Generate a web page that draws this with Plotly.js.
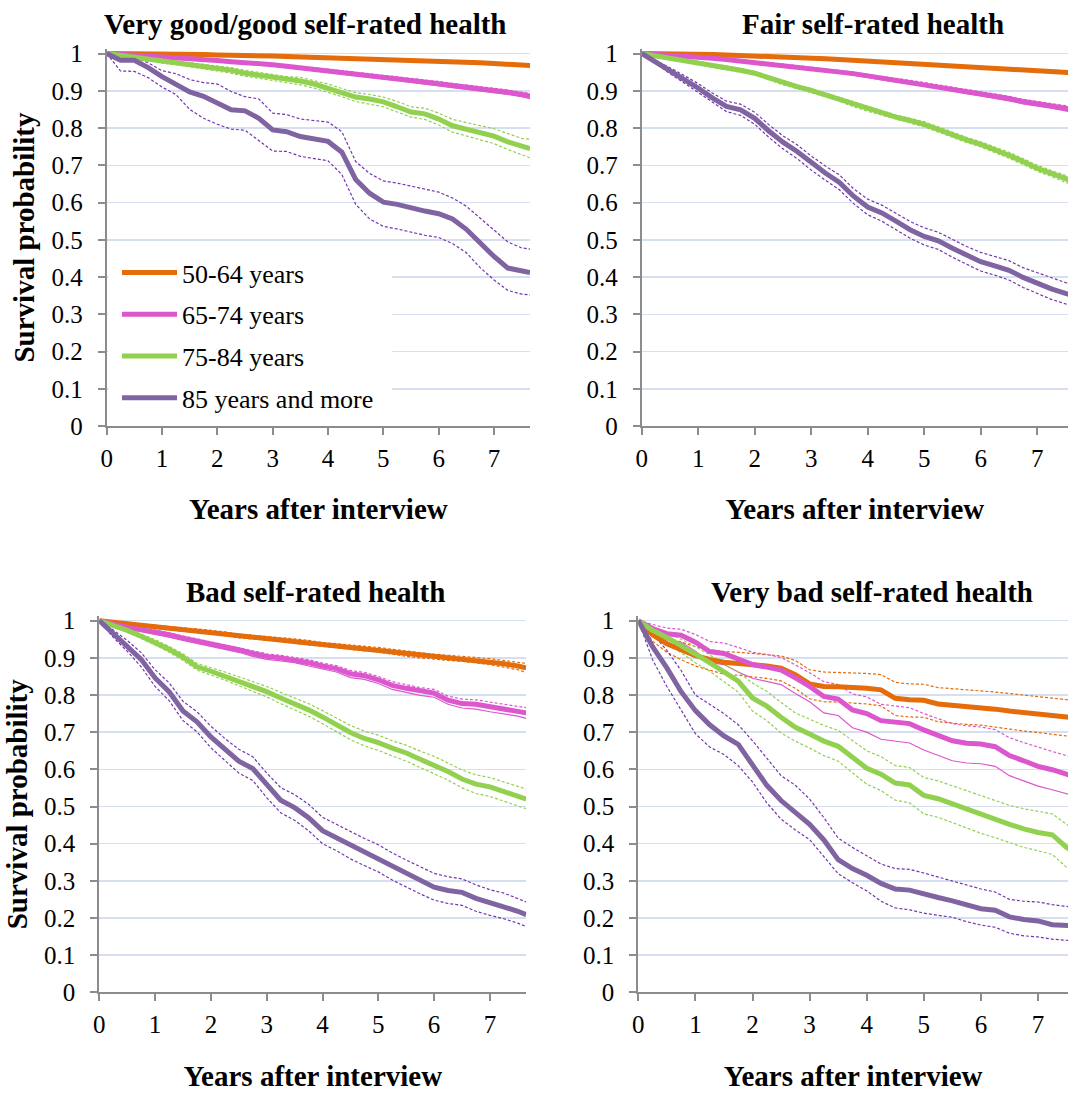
<!DOCTYPE html>
<html>
<head>
<meta charset="utf-8">
<script src="https://cdn.plot.ly/plotly-3.0.1.min.js"></script>
<style>html,body{margin:0;padding:0;background:#fff}</style>
</head>
<body>
<div id="chart" style="width:1068px;height:1095px"></div>
<script>
// Years after interview (shared time grid for every curve)
const years = [0,0.25,0.5,0.75,1,1.25,1.5,1.75,2,2.25,2.5,2.75,3,3.25,3.5,3.75,4,4.25,4.5,4.75,5,5.25,5.5,5.75,6,6.25,6.5,6.75,7,7.25,7.5,7.65];
const ageGroups = ['50-64 years','65-74 years','75-84 years','85 years and more'];
const panelTitles = ['Very good/good self-rated health','Fair self-rated health','Bad self-rated health','Very bad self-rated health'];

// Very good / good self-rated health: survival estimate, lower and upper bounds
const vgood_50_64    = [1,1,0.999,0.999,0.998,0.998,0.997,0.997,0.996,0.996,0.995,0.994,0.993,0.992,0.991,0.99,0.989,0.988,0.987,0.986,0.984,0.983,0.982,0.98,0.979,0.978,0.976,0.975,0.973,0.971,0.969,0.968];
const vgood_50_64_lo = [1,0.999,0.998,0.998,0.997,0.997,0.996,0.995,0.994,0.994,0.993,0.992,0.991,0.99,0.989,0.988,0.987,0.986,0.985,0.983,0.981,0.98,0.979,0.977,0.976,0.975,0.973,0.972,0.97,0.968,0.966,0.965];
const vgood_50_64_hi = [1,1,1,1,0.999,0.999,0.999,0.998,0.998,0.998,0.997,0.996,0.995,0.994,0.993,0.992,0.991,0.99,0.989,0.988,0.987,0.986,0.985,0.983,0.982,0.981,0.979,0.978,0.976,0.974,0.972,0.971];
const vgood_65_74    = [1,0.998,0.996,0.993,0.991,0.988,0.986,0.983,0.981,0.978,0.976,0.973,0.97,0.966,0.962,0.958,0.954,0.95,0.946,0.942,0.938,0.933,0.928,0.923,0.919,0.914,0.91,0.905,0.901,0.896,0.89,0.886];
const vgood_65_74_lo = [1,0.997,0.995,0.991,0.989,0.986,0.984,0.98,0.978,0.975,0.973,0.97,0.967,0.962,0.958,0.954,0.95,0.946,0.941,0.937,0.933,0.928,0.923,0.917,0.913,0.908,0.904,0.899,0.895,0.89,0.884,0.879];
const vgood_65_74_hi = [1,0.999,0.997,0.995,0.993,0.99,0.988,0.986,0.984,0.981,0.979,0.976,0.973,0.97,0.966,0.962,0.958,0.954,0.951,0.947,0.943,0.938,0.933,0.929,0.925,0.92,0.916,0.911,0.907,0.902,0.896,0.893];
const vgood_75_84    = [1,0.995,0.99,0.985,0.979,0.975,0.97,0.965,0.961,0.955,0.947,0.942,0.935,0.929,0.926,0.918,0.907,0.895,0.883,0.878,0.87,0.857,0.843,0.838,0.824,0.806,0.797,0.787,0.778,0.763,0.75,0.745];
const vgood_75_84_lo = [1,0.993,0.987,0.981,0.974,0.97,0.964,0.958,0.954,0.947,0.939,0.933,0.926,0.92,0.916,0.907,0.896,0.884,0.871,0.865,0.857,0.843,0.829,0.823,0.808,0.789,0.779,0.768,0.758,0.742,0.727,0.72];
const vgood_75_84_hi = [1,0.997,0.993,0.989,0.984,0.98,0.976,0.971,0.968,0.962,0.955,0.95,0.944,0.938,0.936,0.928,0.918,0.906,0.895,0.89,0.883,0.871,0.857,0.853,0.84,0.823,0.815,0.806,0.798,0.785,0.772,0.77];
const vgood_85       = [1,0.982,0.982,0.962,0.938,0.919,0.897,0.885,0.868,0.849,0.846,0.826,0.795,0.79,0.777,0.771,0.764,0.735,0.662,0.625,0.601,0.595,0.585,0.577,0.57,0.556,0.528,0.492,0.455,0.424,0.415,0.412];
const vgood_85_lo    = [1,0.953,0.952,0.935,0.91,0.89,0.85,0.826,0.81,0.797,0.794,0.767,0.738,0.737,0.724,0.718,0.712,0.675,0.595,0.556,0.536,0.529,0.52,0.512,0.506,0.49,0.465,0.425,0.392,0.364,0.354,0.352];
const vgood_85_hi    = [1,0.99,0.99,0.975,0.954,0.946,0.93,0.922,0.918,0.898,0.884,0.878,0.84,0.836,0.824,0.82,0.816,0.79,0.71,0.678,0.658,0.652,0.643,0.636,0.628,0.612,0.59,0.558,0.528,0.494,0.478,0.475];

// Fair self-rated health
const fair_50_64     = [1,1,0.999,0.999,0.998,0.997,0.996,0.995,0.994,0.992,0.99,0.989,0.987,0.986,0.984,0.982,0.979,0.977,0.976,0.974,0.971,0.97,0.968,0.966,0.963,0.962,0.96,0.958,0.956,0.953,0.95,0.948];
const fair_50_64_lo  = [1,0.999,0.998,0.998,0.997,0.996,0.995,0.994,0.993,0.99,0.988,0.987,0.985,0.984,0.982,0.98,0.977,0.975,0.974,0.972,0.968,0.967,0.965,0.963,0.96,0.959,0.957,0.955,0.953,0.949,0.946,0.944];
const fair_50_64_hi  = [1,1,1,1,0.999,0.998,0.997,0.996,0.995,0.994,0.992,0.991,0.989,0.988,0.986,0.984,0.981,0.979,0.978,0.976,0.974,0.973,0.971,0.969,0.966,0.965,0.963,0.961,0.959,0.957,0.954,0.952];
const fair_65_74     = [1,0.998,0.996,0.993,0.991,0.987,0.984,0.98,0.977,0.973,0.969,0.965,0.96,0.955,0.951,0.946,0.94,0.934,0.929,0.923,0.917,0.911,0.904,0.898,0.892,0.886,0.879,0.871,0.866,0.86,0.853,0.849];
const fair_65_74_lo  = [1,0.997,0.995,0.991,0.989,0.985,0.982,0.977,0.974,0.97,0.966,0.962,0.956,0.951,0.947,0.942,0.936,0.929,0.924,0.918,0.912,0.906,0.898,0.892,0.886,0.88,0.873,0.865,0.86,0.853,0.846,0.842];
const fair_65_74_hi  = [1,0.999,0.997,0.995,0.993,0.989,0.986,0.983,0.98,0.976,0.972,0.968,0.964,0.959,0.955,0.95,0.944,0.939,0.934,0.928,0.922,0.916,0.91,0.904,0.898,0.892,0.885,0.877,0.872,0.867,0.86,0.856];
const fair_75_84     = [1,0.994,0.987,0.981,0.975,0.968,0.961,0.955,0.947,0.935,0.921,0.911,0.901,0.889,0.877,0.863,0.851,0.84,0.829,0.82,0.81,0.796,0.781,0.768,0.756,0.742,0.727,0.71,0.692,0.678,0.663,0.656];
const fair_75_84_lo  = [1,0.992,0.984,0.977,0.971,0.964,0.956,0.95,0.942,0.93,0.916,0.906,0.896,0.884,0.872,0.857,0.845,0.834,0.823,0.814,0.803,0.789,0.774,0.761,0.749,0.735,0.719,0.702,0.684,0.67,0.654,0.647];
const fair_75_84_hi  = [1,0.996,0.99,0.985,0.979,0.972,0.966,0.96,0.952,0.94,0.926,0.916,0.906,0.894,0.882,0.869,0.857,0.846,0.835,0.826,0.817,0.803,0.788,0.775,0.763,0.749,0.735,0.718,0.7,0.686,0.672,0.665];
const fair_85        = [1,0.977,0.954,0.931,0.907,0.881,0.858,0.849,0.826,0.792,0.762,0.737,0.706,0.679,0.654,0.617,0.588,0.572,0.55,0.527,0.509,0.497,0.477,0.458,0.441,0.43,0.418,0.399,0.383,0.368,0.356,0.35];
const fair_85_lo     = [1,0.972,0.946,0.921,0.895,0.868,0.844,0.834,0.81,0.775,0.744,0.718,0.687,0.66,0.634,0.597,0.567,0.55,0.528,0.504,0.486,0.474,0.453,0.434,0.416,0.405,0.392,0.372,0.355,0.34,0.328,0.322];
const fair_85_hi     = [1,0.982,0.962,0.941,0.919,0.894,0.872,0.864,0.842,0.809,0.779,0.755,0.725,0.698,0.674,0.637,0.609,0.593,0.572,0.549,0.532,0.52,0.501,0.482,0.466,0.455,0.444,0.425,0.411,0.397,0.385,0.38];

// Bad self-rated health
const bad_50_64      = [1,0.996,0.991,0.987,0.983,0.98,0.977,0.974,0.97,0.965,0.959,0.956,0.953,0.949,0.945,0.941,0.935,0.932,0.929,0.925,0.922,0.916,0.911,0.907,0.903,0.9,0.898,0.894,0.89,0.884,0.878,0.873];
const bad_50_64_lo   = [1,0.994,0.988,0.983,0.979,0.976,0.973,0.97,0.965,0.96,0.954,0.951,0.948,0.944,0.939,0.935,0.929,0.926,0.923,0.919,0.916,0.909,0.904,0.9,0.896,0.893,0.891,0.887,0.882,0.875,0.868,0.861];
const bad_50_64_hi   = [1,0.998,0.994,0.991,0.987,0.984,0.981,0.978,0.975,0.97,0.964,0.961,0.958,0.954,0.951,0.947,0.941,0.938,0.935,0.931,0.928,0.923,0.918,0.914,0.91,0.907,0.905,0.901,0.898,0.893,0.888,0.885];
const bad_65_74      = [1,0.99,0.982,0.976,0.97,0.962,0.953,0.946,0.938,0.93,0.922,0.912,0.904,0.9,0.895,0.887,0.878,0.871,0.857,0.852,0.841,0.826,0.818,0.81,0.805,0.786,0.777,0.775,0.768,0.763,0.757,0.752];
const bad_65_74_lo   = [1,0.987,0.978,0.971,0.965,0.956,0.947,0.94,0.931,0.923,0.915,0.904,0.896,0.892,0.887,0.878,0.869,0.862,0.847,0.842,0.831,0.815,0.807,0.799,0.794,0.775,0.765,0.762,0.755,0.749,0.743,0.737];
const bad_65_74_hi   = [1,0.993,0.986,0.98,0.975,0.967,0.958,0.951,0.944,0.936,0.928,0.919,0.911,0.907,0.902,0.895,0.886,0.879,0.866,0.861,0.85,0.836,0.828,0.82,0.815,0.797,0.789,0.787,0.781,0.776,0.77,0.766];
const bad_75_84      = [1,0.988,0.974,0.958,0.942,0.923,0.902,0.876,0.864,0.851,0.837,0.823,0.809,0.792,0.777,0.76,0.741,0.72,0.699,0.683,0.672,0.657,0.644,0.627,0.612,0.594,0.574,0.56,0.553,0.54,0.527,0.52];
const bad_75_84_lo   = [1,0.985,0.969,0.952,0.935,0.915,0.893,0.867,0.854,0.84,0.825,0.81,0.795,0.777,0.761,0.743,0.723,0.702,0.68,0.663,0.651,0.636,0.622,0.605,0.589,0.571,0.55,0.535,0.527,0.514,0.501,0.494];
const bad_75_84_hi   = [1,0.991,0.979,0.964,0.949,0.931,0.911,0.885,0.874,0.862,0.849,0.836,0.823,0.807,0.793,0.777,0.758,0.738,0.718,0.703,0.692,0.677,0.665,0.649,0.635,0.617,0.598,0.585,0.578,0.566,0.553,0.547];
const bad_85         = [1,0.965,0.933,0.896,0.846,0.809,0.757,0.728,0.687,0.653,0.622,0.602,0.557,0.517,0.497,0.47,0.435,0.416,0.395,0.377,0.36,0.338,0.319,0.3,0.283,0.274,0.269,0.253,0.241,0.232,0.218,0.209];
const bad_85_lo      = [1,0.955,0.918,0.876,0.823,0.785,0.731,0.701,0.658,0.623,0.59,0.57,0.524,0.483,0.463,0.435,0.4,0.381,0.359,0.341,0.324,0.302,0.283,0.265,0.248,0.239,0.234,0.218,0.207,0.198,0.186,0.177];
const bad_85_hi      = [1,0.975,0.947,0.914,0.868,0.833,0.783,0.755,0.716,0.683,0.654,0.634,0.59,0.551,0.532,0.506,0.471,0.452,0.432,0.414,0.397,0.375,0.356,0.337,0.32,0.311,0.305,0.289,0.276,0.267,0.252,0.243];

// Very bad self-rated health
const vbad_50_64     = [1,0.962,0.938,0.922,0.906,0.896,0.888,0.885,0.882,0.878,0.872,0.855,0.83,0.823,0.822,0.821,0.818,0.814,0.791,0.787,0.786,0.776,0.773,0.77,0.768,0.762,0.757,0.754,0.75,0.745,0.741,0.738];
const vbad_50_64_lo  = [1,0.945,0.915,0.895,0.878,0.866,0.856,0.853,0.85,0.845,0.838,0.818,0.79,0.782,0.781,0.779,0.776,0.771,0.745,0.741,0.74,0.728,0.724,0.721,0.719,0.713,0.707,0.703,0.699,0.694,0.69,0.687];
const vbad_50_64_hi  = [1,0.975,0.955,0.942,0.93,0.922,0.917,0.915,0.912,0.909,0.905,0.893,0.868,0.862,0.861,0.86,0.858,0.855,0.834,0.83,0.829,0.82,0.817,0.815,0.813,0.808,0.804,0.8,0.797,0.792,0.788,0.785];
const vbad_65_74     = [1,0.979,0.965,0.961,0.942,0.917,0.912,0.896,0.882,0.875,0.867,0.846,0.823,0.796,0.789,0.76,0.75,0.731,0.727,0.723,0.706,0.691,0.677,0.67,0.668,0.661,0.637,0.623,0.608,0.599,0.587,0.58];
const vbad_65_74_lo  = [1,0.968,0.948,0.942,0.918,0.888,0.882,0.862,0.845,0.836,0.828,0.804,0.782,0.752,0.745,0.712,0.7,0.681,0.676,0.671,0.652,0.637,0.623,0.617,0.615,0.608,0.583,0.569,0.555,0.545,0.535,0.528];
const vbad_65_74_hi  = [1,0.99,0.98,0.977,0.963,0.944,0.94,0.928,0.915,0.909,0.901,0.881,0.86,0.836,0.828,0.803,0.795,0.775,0.77,0.766,0.75,0.737,0.723,0.717,0.714,0.707,0.685,0.672,0.659,0.648,0.637,0.63];
const vbad_75_84     = [1,0.974,0.955,0.934,0.91,0.887,0.86,0.837,0.792,0.77,0.74,0.713,0.695,0.676,0.662,0.632,0.603,0.587,0.563,0.558,0.53,0.521,0.507,0.493,0.478,0.466,0.452,0.44,0.43,0.424,0.39,0.375];
const vbad_75_84_lo  = [1,0.963,0.94,0.914,0.887,0.864,0.835,0.808,0.757,0.731,0.698,0.676,0.657,0.637,0.622,0.59,0.56,0.543,0.517,0.51,0.48,0.471,0.456,0.443,0.428,0.416,0.402,0.39,0.381,0.371,0.336,0.32];
const vbad_75_84_hi  = [1,0.983,0.968,0.95,0.93,0.908,0.883,0.862,0.832,0.81,0.78,0.752,0.735,0.718,0.705,0.677,0.65,0.634,0.61,0.605,0.578,0.569,0.556,0.543,0.529,0.517,0.503,0.494,0.486,0.48,0.452,0.438];
const vbad_85        = [1,0.93,0.873,0.809,0.758,0.72,0.69,0.667,0.612,0.557,0.516,0.485,0.452,0.41,0.357,0.333,0.315,0.293,0.278,0.275,0.264,0.255,0.246,0.236,0.225,0.221,0.203,0.196,0.192,0.182,0.18,0.179];
const vbad_85_lo     = [1,0.895,0.823,0.76,0.696,0.66,0.64,0.61,0.566,0.51,0.466,0.437,0.411,0.365,0.319,0.295,0.273,0.245,0.227,0.222,0.213,0.207,0.202,0.19,0.181,0.175,0.159,0.152,0.149,0.143,0.14,0.138];
const vbad_85_hi     = [1,0.965,0.92,0.866,0.8,0.775,0.75,0.72,0.677,0.63,0.583,0.557,0.52,0.47,0.415,0.39,0.367,0.345,0.333,0.331,0.321,0.31,0.298,0.288,0.278,0.27,0.25,0.245,0.243,0.236,0.23,0.228];

// Per-age-group colours: thick estimate line, thin bound lines
const mainColors = ['#E46C0A','#DC56CD','#92D050','#8064A2'];
const boundColors = ['#E46C0A','#DC56CD','#92D050','#7435B0'];

const panelSeries = [
  [[vgood_50_64,vgood_50_64_lo,vgood_50_64_hi],[vgood_65_74,vgood_65_74_lo,vgood_65_74_hi],[vgood_75_84,vgood_75_84_lo,vgood_75_84_hi],[vgood_85,vgood_85_lo,vgood_85_hi]],
  [[fair_50_64,fair_50_64_lo,fair_50_64_hi],[fair_65_74,fair_65_74_lo,fair_65_74_hi],[fair_75_84,fair_75_84_lo,fair_75_84_hi],[fair_85,fair_85_lo,fair_85_hi]],
  [[bad_50_64,bad_50_64_lo,bad_50_64_hi],[bad_65_74,bad_65_74_lo,bad_65_74_hi],[bad_75_84,bad_75_84_lo,bad_75_84_hi],[bad_85,bad_85_lo,bad_85_hi]],
  [[vbad_50_64,vbad_50_64_lo,vbad_50_64_hi],[vbad_65_74,vbad_65_74_lo,vbad_65_74_hi],[vbad_75_84,vbad_75_84_lo,vbad_75_84_hi],[vbad_85,vbad_85_lo,vbad_85_hi]]
];

const FONT = '"Liberation Serif", "Times New Roman", serif';
const W = 1068, H = 1095;
const axisIds = [['x','y'],['x2','y2'],['x3','y3'],['x4','y4']];

const traces = [];
// thin confidence bounds first, so the estimates sit on top
panelSeries.forEach((groups, p) => {
  groups.forEach((g, i) => {
    [1, 2].forEach(k => {
      const solid = (i === 1 && k === 1);
      traces.push({
        x: years, y: g[k], xaxis: axisIds[p][0], yaxis: axisIds[p][1],
        type: 'scatter', mode: 'lines', showlegend: false, hoverinfo: 'skip',
        legendgroup: 'g' + i,
        line: {color: boundColors[i], width: 1.2, dash: solid ? 'solid' : '3px,2px'}
      });
    });
  });
});
panelSeries.forEach((groups, p) => {
  groups.forEach((g, i) => {
    traces.push({
      x: years, y: g[0], xaxis: axisIds[p][0], yaxis: axisIds[p][1],
      type: 'scatter', mode: 'lines', name: ageGroups[i],
      legendgroup: 'g' + i, showlegend: p === 0,
      line: {color: mainColors[i], width: 5}
    });
  });
});

// subplot frames in pixels: left/right of plot area, y-pixel of value 0 and of value 1
const frames = [
  {l: 106.7, r: 530,  y0: 426,   y1: 53.5,  xmax: 7.65},
  {l: 641.7, r: 1068, y0: 426,   y1: 53.5,  xmax: 7.545},
  {l: 99.3,  r: 526.2, y0: 992.3, y1: 620.7, xmax: 7.65},
  {l: 638.3, r: 1068, y0: 992.3, y1: 620.7, xmax: 7.525}
];
const YTOP = 1.012;

const tickFont = {family: FONT, size: 25, color: '#000'};
const titleFont = {family: FONT, size: 29, color: '#000', weight: 'bold'};

const layout = {
  width: W, height: H, autosize: false,
  margin: {l: 0, r: 0, t: 0, b: 0},
  paper_bgcolor: '#fff', plot_bgcolor: '#fff',
  showlegend: true,
  legend: {
    x: 117 / W, y: 1 - 249 / H, xanchor: 'left', yanchor: 'top',
    bgcolor: '#fff', borderwidth: 0,
    font: {family: FONT, size: 26, color: '#000'},
    traceorder: 'grouped', tracegroupgap: 5, itemwidth: 55
  },
  annotations: [],
  shapes: [{
    // white panel behind the legend, hiding the grid there
    type: 'rect', xref: 'x', yref: 'y', x0: 0.03, x1: 5.16, y0: 0.006, y1: 0.46,
    fillcolor: '#fff', line: {width: 0}, layer: 'between'
  }],
  font: {family: FONT}
};

frames.forEach((f, p) => {
  const perUnit = f.y0 - f.y1;
  const yTopPx = f.y0 - perUnit * YTOP;
  const xa = {
    domain: [f.l / W, f.r / W], range: [0, f.xmax], anchor: axisIds[p][1],
    tickmode: 'linear', tick0: 0, dtick: 1,
    showgrid: false, zeroline: false, showline: true,
    linecolor: '#8c8c8c', linewidth: 2,
    ticks: 'outside', ticklen: 7, tickwidth: 2, tickcolor: '#8c8c8c',
    ticklabelstandoff: 2,
    tickfont: tickFont, fixedrange: true,
    title: {text: 'Years after interview', font: titleFont, standoff: 28}
  };
  const ya = {
    domain: [1 - f.y0 / H, 1 - yTopPx / H], range: [0, YTOP], anchor: axisIds[p][0],
    tickmode: 'linear', tick0: 0, dtick: 0.1,
    showgrid: true, gridcolor: '#d6dff0', gridwidth: 1.5,
    zeroline: false, showline: true,
    linecolor: '#8c8c8c', linewidth: 2,
    ticks: 'outside', ticklen: 7, tickwidth: 2, tickcolor: '#8c8c8c',
    ticklabelstandoff: 10,
    tickfont: tickFont, fixedrange: true
  };
  if (p === 0 || p === 2) {
    ya.title = {text: 'Survival probability', font: titleFont, standoff: 8};
  }
  const suffix = p === 0 ? '' : String(p + 1);
  layout['xaxis' + suffix] = xa;
  layout['yaxis' + suffix] = ya;
});

// subplot headings
const headCenters = [[305, 24], [873, 24], [315, 592], [872, 592]];
panelTitles.forEach((t, p) => {
  layout.annotations.push({
    text: t, xref: 'paper', yref: 'paper',
    x: headCenters[p][0] / W, y: 1 - headCenters[p][1] / H,
    xanchor: 'center', yanchor: 'middle', showarrow: false,
    font: titleFont
  });
});

Plotly.newPlot('chart', traces, layout, {displayModeBar: false, staticPlot: true});
</script>
</body>
</html>
